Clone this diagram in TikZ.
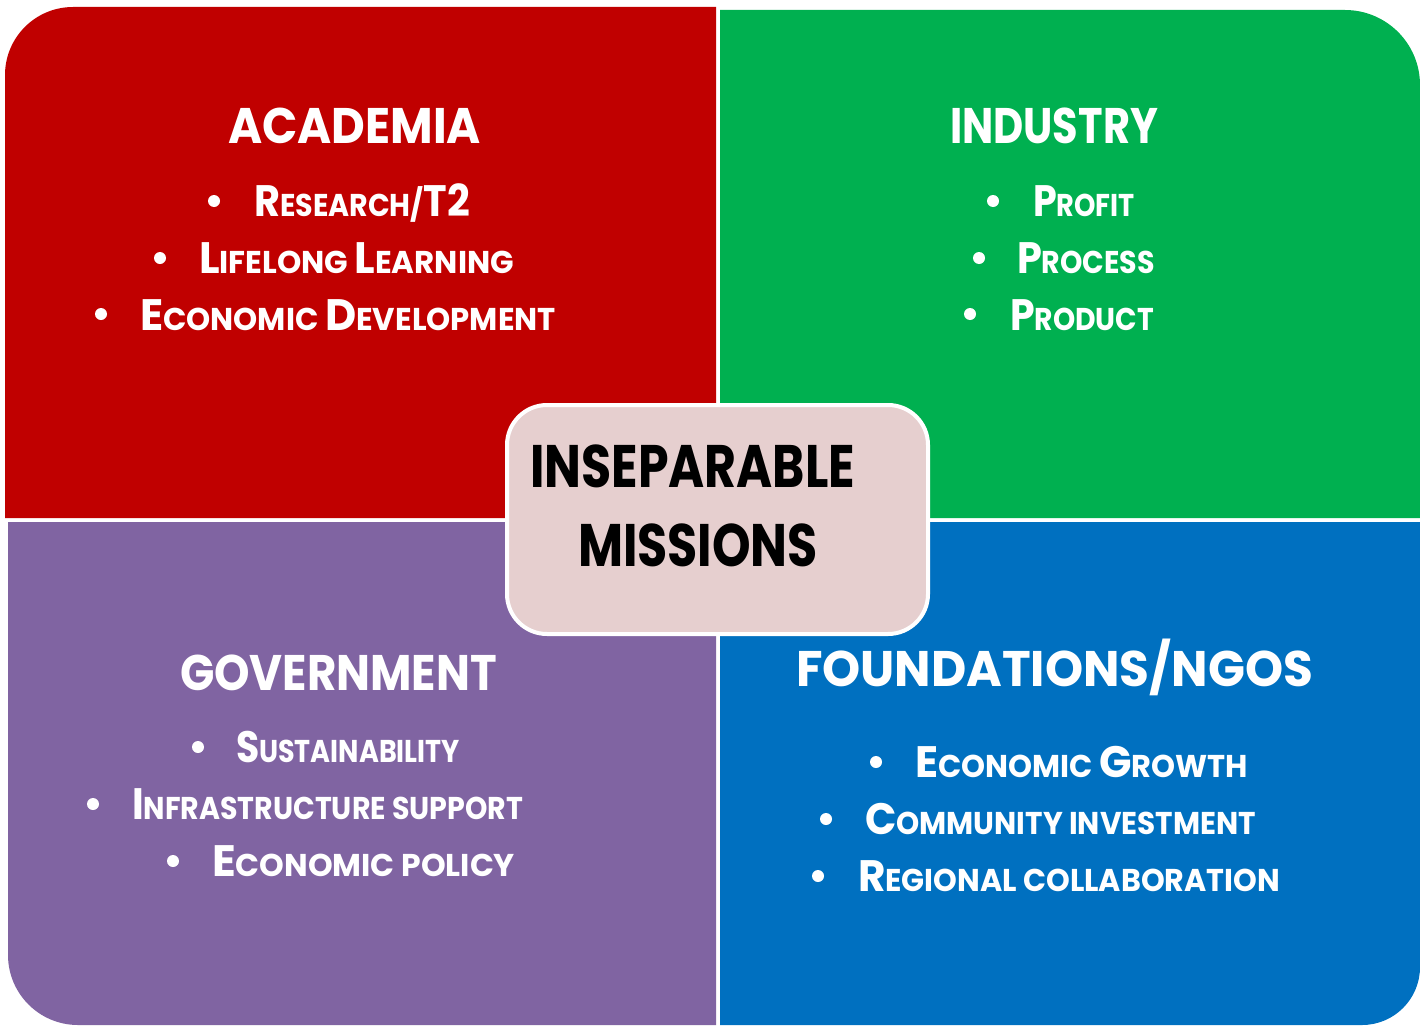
\documentclass[tikz,border=0pt]{standalone}
\usepackage{fontspec}
\setmainfont{Poppins}
\usepackage{graphicx}
\definecolor{qred}{HTML}{C00000}
\definecolor{qgreen}{HTML}{00B050}
\definecolor{qpurple}{HTML}{8064A2}
\definecolor{qblue}{HTML}{0070C0}
\definecolor{qpink}{HTML}{E6CFCF}
\newcommand\fitw[2]{\resizebox{#1pt}{\height}{#2}}
\newcommand\BG[1]{{\fontsize{44}{44}\selectfont #1}}
\newcommand\SC[2]{\BG{#1}#2}
\tikzset{
  lbl/.style={anchor=base west, inner sep=0pt, outer sep=0pt, text=white, font=\bfseries\fontsize{31.5}{31.5}\selectfont},
  ttl/.style={lbl, font=\bfseries\fontsize{50}{50}\selectfont},
  ctr/.style={lbl, text=black, font=\bfseries\fontsize{60}{60}\selectfont},
  bul/.style={circle, fill=white, inner sep=0pt, minimum size=12pt},
}
\begin{document}
\begin{tikzpicture}[x=1pt,y=-1pt]
\useasboundingbox (0,0) rectangle (1420,1025);
% quadrants
\fill[qred] (5,518) [rounded corners=68pt] -- (5,7) [sharp corners] -- (716,7) -- (716,518) -- cycle;
\fill[qgreen] (720,518) -- (720,10) [rounded corners=75pt] -- (1420,10) [sharp corners] -- (1420,518) -- cycle;
\fill[qpurple] (716,522) -- (8,522) [rounded corners=70pt] -- (8,1025) [sharp corners] -- (716,1025) -- cycle;
\fill[qblue] (720,1025) -- (720,522) -- (1420,522) [rounded corners=58pt] -- (1420,1025) [sharp corners] -- cycle;
% centre
\node[draw=white, line width=4pt, fill=qpink, rounded corners=40pt, minimum width=421pt, minimum height=229pt] (c) at (717.5,519.5) {};
\node[ctr] (c1) at (530,487) {\fitw{325}{INSEPARABLE}};
\node[ctr] (c2) at (578,566) {\fitw{240}{MISSIONS}};
% academia
\node[ttl] (ta) at (228,143) {\fitw{253}{ACADEMIA}};
\node[bul] (ba1) at (214,201) {};
\node[lbl] (a1) at (254,216) {\fitw{216}{\SC{R}{ESEARCH/}\BG{T2}}};
\node[bul] (ba2) at (160,258) {};
\node[lbl] (a2) at (199,273) {\fitw{315}{\SC{L}{IFELONG} \SC{L}{EARNING}}};
\node[bul] (ba3) at (101,314) {};
\node[lbl] (a3) at (140,330) {\fitw{416}{\SC{E}{CONOMIC} \SC{D}{EVELOPMENT}}};
% industry
\node[ttl] (ti) at (950,143) {\fitw{208}{INDUSTRY}};
\node[bul] (bi1) at (993,201) {};
\node[lbl] (i1) at (1033,216) {\fitw{102}{\SC{P}{ROFIT}}};
\node[bul] (bi2) at (979,258) {};
\node[lbl] (i2) at (1017,273) {\fitw{138}{\SC{P}{ROCESS}}};
\node[bul] (bi3) at (970,314) {};
\node[lbl] (i3) at (1010,330) {\fitw{144}{\SC{P}{RODUCT}}};
% government
\node[ttl] (tg) at (180,690) {\fitw{317}{GOVERNMENT}};
\node[bul] (bg1) at (198,747) {};
\node[lbl] (g1) at (236,762) {\fitw{224}{\SC{S}{USTAINABILITY}}};
\node[bul] (bg2) at (93,804) {};
\node[lbl] (g2) at (132,819) {\fitw{391}{\SC{I}{NFRASTRUCTURE SUPPORT}}};
\node[bul] (bg3) at (173,861) {};
\node[lbl] (g3) at (212,876) {\fitw{303}{\SC{E}{CONOMIC POLICY}}};
% foundations
\node[ttl] (tf) at (796,686) {\fitw{517}{FOUNDATIONS/NGOS}};
\node[bul] (bf1) at (876,762) {};
\node[lbl] (f1) at (915,777) {\fitw{333}{\SC{E}{CONOMIC} \SC{G}{ROWTH}}};
\node[bul] (bf2) at (826,819) {};
\node[lbl] (f2) at (865,834) {\fitw{391}{\SC{C}{OMMUNITY INVESTMENT}}};
\node[bul] (bf3) at (818,876) {};
\node[lbl] (f3) at (858,891) {\fitw{422}{\SC{R}{EGIONAL COLLABORATION}}};
\end{tikzpicture}
\end{document}
